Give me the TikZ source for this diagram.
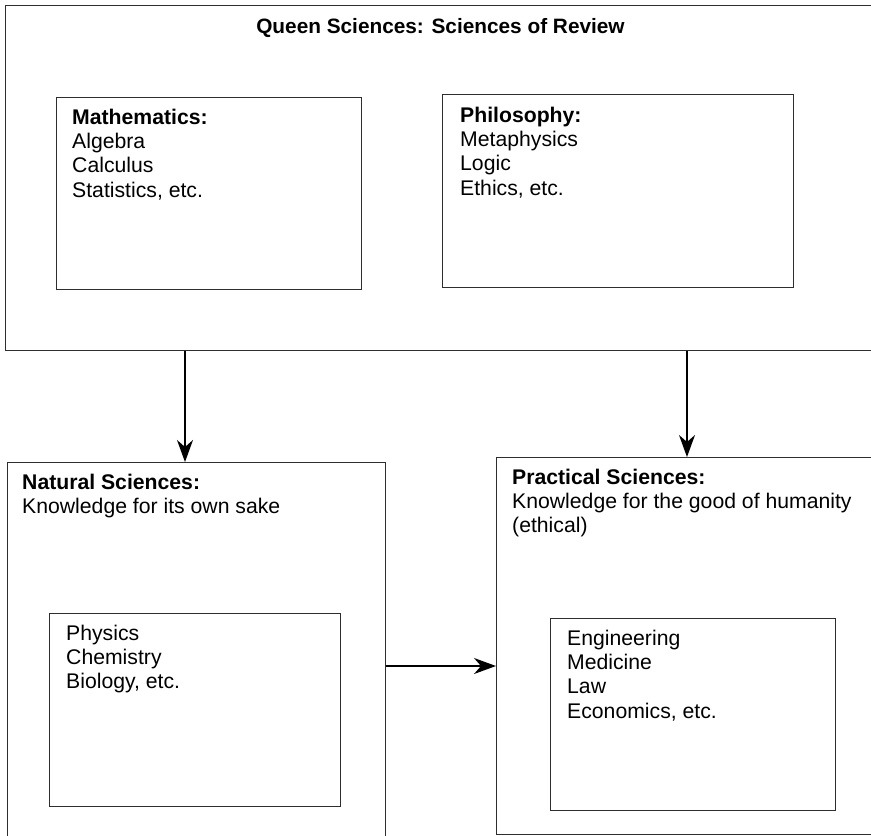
\documentclass[tikz,border=0pt]{standalone}
\usepackage{fontspec}
\setmainfont{Liberation Sans}
\usetikzlibrary{arrows.meta}
\begin{document}
\begin{tikzpicture}[x=1pt,y=-1pt,
  frame/.style={draw=black!82,line width=1.4pt,inner sep=0pt,anchor=north west},
  label/.style={anchor=north west,inner sep=0pt,align=left,
    font=\fontsize{21.2}{24.2}\selectfont},
  arr/.style={draw=black,line width=1.1pt,
    -{Stealth[length=22pt,width=16pt,inset=7pt]}}]
  \useasboundingbox (0,0) rectangle (871,836);
  \clip (0,0) rectangle (871,836);

  % outer frames
  \node[frame,minimum width=890pt,minimum height=345pt] (queen) at (5,5) {};
  \node[frame,minimum width=378pt,minimum height=400pt] (natural) at (7,462) {};
  \node[frame,minimum width=390pt,minimum height=377pt] (practical) at (496,457) {};

  % inner frames
  \node[frame,minimum width=305pt,minimum height=192pt] (math) at (56,97) {};
  \node[frame,minimum width=351pt,minimum height=193pt] (phil) at (442,94) {};
  \node[frame,minimum width=291pt,minimum height=193pt] (natlist) at (49,613) {};
  \node[frame,minimum width=285pt,minimum height=192pt] (praclist) at (550,618) {};

  % texts
  \node[anchor=base,inner sep=0pt,font=\fontsize{20.8}{24.2}\selectfont\bfseries]
    (title) at (440.5,33) {Queen Sciences: Sciences of Review};
  \node[label] (mathtext) at (72,109) {\textbf{Mathematics:}\\Algebra\\Calculus\\Statistics, etc.};
  \node[label] (philtext) at (460,107) {\textbf{Philosophy:}\\Metaphysics\\Logic\\Ethics, etc.};
  \node[label] (nattext) at (22,474) {\textbf{Natural Sciences:}\\Knowledge for its own sake};
  \node[label] (natlisttext) at (66,625) {Physics\\Chemistry\\Biology, etc.};
  \node[label] (practext) at (512,469) {\textbf{Practical Sciences:}\\Knowledge for the good of humanity\\(ethical)};
  \node[label] (praclisttext) at (567,630) {Engineering\\Medicine\\Law\\Economics, etc.};

  % connectors
  \draw[arr] (queen.south -| 185,0) -- (natural.north -| 185,0);
  \draw[arr] (queen.south -| 687,0) -- (practical.north -| 687,0);
  \draw[arr] (natural.east |- 0,666) -- (practical.west |- 0,666);
\end{tikzpicture}
\end{document}
